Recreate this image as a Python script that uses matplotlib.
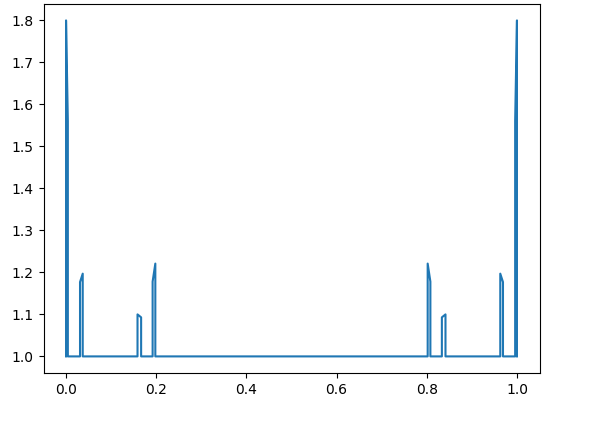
import matplotlib
matplotlib.use("Agg")
import matplotlib.pyplot as plt

# Vertices of the curve
x_vals = [0.0, 0.0, 0.004, 0.004,
          0.031, 0.031, 0.037, 0.037,
          0.1585, 0.1585, 0.1665, 0.1665,
          0.192, 0.192, 0.198, 0.198,
          0.802, 0.802, 0.808, 0.808,
          0.8335, 0.8335, 0.8415, 0.8415,
          0.963, 0.963, 0.969, 0.969,
          0.996, 0.996, 1.0, 1.0]
y_vals = [1.0, 1.8, 1.56, 1.0,
          1.0, 1.177, 1.197, 1.0,
          1.0, 1.10, 1.093, 1.0,
          1.0, 1.178, 1.221, 1.0,
          1.0, 1.221, 1.178, 1.0,
          1.0, 1.093, 1.10, 1.0,
          1.0, 1.197, 1.177, 1.0,
          1.0, 1.56, 1.8, 1.0]

fig = plt.figure(figsize=(6.03, 4.26), dpi=100)
ax = fig.add_axes([43.5 / 603, 52.8 / 426, 496 / 603, 369.6 / 426])
ax.plot(x_vals, y_vals, color="#1f77b4", linewidth=1.5)
fig.savefig("out.png", dpi=100)
